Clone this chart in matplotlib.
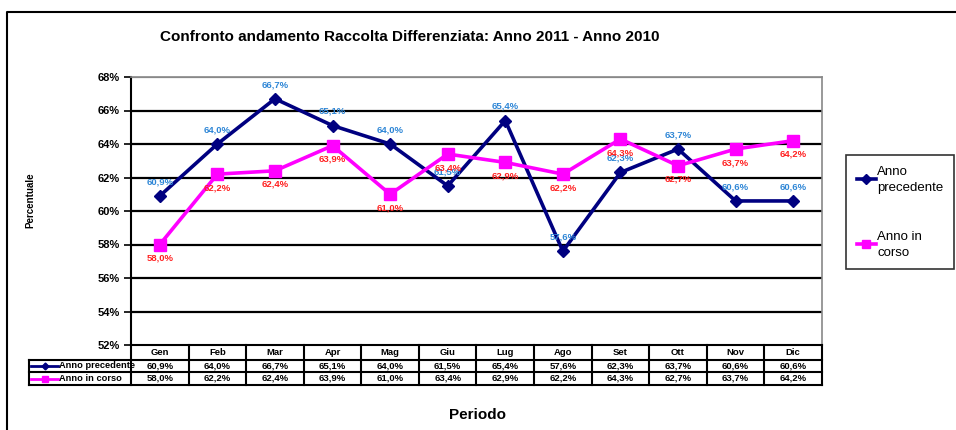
import matplotlib
matplotlib.use('Agg')
from matplotlib import pyplot as plt
from matplotlib.lines import Line2D

plt.rcParams['font.family'] = ['Liberation Sans', 'DejaVu Sans']

mesi = ['Gen', 'Feb', 'Mar', 'Apr', 'Mag', 'Giu', 'Lug', 'Ago', 'Set', 'Ott', 'Nov', 'Dic']
anno_precedente = [60.9, 64.0, 66.7, 65.1, 64.0, 61.5, 65.4, 57.6, 62.3, 63.7, 60.6, 60.6]
anno_in_corso = [58.0, 62.2, 62.4, 63.9, 61.0, 63.4, 62.9, 62.2, 64.3, 62.7, 63.7, 64.2]
y_ticks = [52, 54, 56, 58, 60, 62, 64, 66, 68]

def pct(v):
    return '{:.1f}%'.format(v).replace('.', ',')

fig = plt.figure(figsize=(9.56, 4.30), dpi=100)
ax = fig.add_axes([131 / 956, 1 - 345 / 430, 691 / 956, 268 / 430])

x = list(range(len(mesi)))
blu = '#000080'
rosa = '#ff00ff'

# griglia orizzontale
for t in y_ticks[1:-1]:
    ax.axhline(t, color='black', lw=1.6, zorder=1)
ax.axhline(68, color='#888888', lw=1.6, zorder=1)

ax.plot(x, anno_precedente, color=blu, lw=2.6, marker='D', ms=6, zorder=3)
ax.plot(x, anno_in_corso, color=rosa, lw=2.6, marker='s', ms=8, zorder=3)

for i in x:
    ax.annotate(pct(anno_precedente[i]), (i, anno_precedente[i]), xytext=(0, 7),
                textcoords='offset points', ha='center', va='bottom',
                color='#2e86d6', fontsize=6.8, fontweight='bold', zorder=4)
    ax.annotate(pct(anno_in_corso[i]), (i, anno_in_corso[i]), xytext=(0, -6.5),
                textcoords='offset points', ha='center', va='top',
                color='#ff2020', fontsize=6.8, fontweight='bold', zorder=4)

ax.set_xlim(-0.5, 11.5)
ax.set_ylim(52, 68)
ax.set_yticks(y_ticks)
ax.set_yticklabels(['{}%'.format(t) for t in y_ticks], fontsize=8, fontweight='bold')
ax.tick_params(axis='y', length=5, width=1.2, direction='out', pad=3)
ax.set_xticks([])
ax.spines['left'].set_linewidth(1.5)
ax.spines['bottom'].set_linewidth(1.5)
ax.spines['top'].set_color('#888888')
ax.spines['right'].set_color('#888888')
ax.spines['top'].set_linewidth(1.2)
ax.spines['right'].set_linewidth(1.2)

# tabella dati sotto il grafico
tr = ax.get_xaxis_transform()
h0, h1, h2 = -15 / 268, -27 / 268, -40 / 268
sx = lambda px: (px - 131) / (691 / 12) - 0.5
left = sx(29)
kw = dict(transform=tr, clip_on=False, color='black', lw=1.5)
for yy in [h0, h1, h2]:
    ax.add_line(Line2D([left if yy != h0 else -0.5, 11.5], [yy, yy], **kw))
ax.add_line(Line2D([left, -0.5], [h0, h0], **kw))
ax.add_line(Line2D([left, left], [h0, h2], **kw))
for i in range(13):
    ax.add_line(Line2D([i - 0.5, i - 0.5], [0, h2], **kw))

fs = 6.8
for i, m in enumerate(mesi):
    ax.text(i, (0 + h0) / 2, m, transform=tr, ha='center', va='center', fontsize=fs, fontweight='bold')
    ax.text(i, (h0 + h1) / 2, pct(anno_precedente[i]), transform=tr, ha='center', va='center', fontsize=fs, fontweight='bold')
    ax.text(i, (h1 + h2) / 2, pct(anno_in_corso[i]), transform=tr, ha='center', va='center', fontsize=fs, fontweight='bold')

ax.add_line(Line2D([sx(31), sx(58)], [(h0 + h1) / 2] * 2, transform=tr, clip_on=False,
                   color=blu, lw=2))
ax.plot([sx(44.5)], [(h0 + h1) / 2], transform=tr, clip_on=False, color=blu, marker='D', ms=3.5)
ax.add_line(Line2D([sx(31), sx(58)], [(h1 + h2) / 2] * 2, transform=tr, clip_on=False,
                   color=rosa, lw=2))
ax.plot([sx(44.5)], [(h1 + h2) / 2], transform=tr, clip_on=False, color=rosa, marker='s', ms=5)
ax.text(sx(59), (h0 + h1) / 2, 'Anno precedente', transform=tr, ha='left', va='center', fontsize=6.7, fontweight='bold')
ax.text(sx(59), (h1 + h2) / 2, 'Anno in corso', transform=tr, ha='left', va='center', fontsize=6.7, fontweight='bold')

# titoli
fig.text(410 / 956, 1 - 37 / 430, 'Confronto andamento Raccolta Differenziata: Anno 2011 - Anno 2010',
         ha='center', va='center', fontsize=11, fontweight='bold')
fig.text(478 / 956, 1 - 415 / 430, 'Periodo', ha='center', va='center', fontsize=11, fontweight='bold')
fig.text(30 / 956, 1 - 200 / 430, 'Percentuale', ha='center', va='center', rotation=90,
         fontsize=7, fontweight='bold')

# legenda
handles = [Line2D([], [], color=blu, lw=2.6, marker='D', ms=5),
           Line2D([], [], color=rosa, lw=2.6, marker='s', ms=6)]
leg = fig.legend(handles, ['Anno\nprecedente', 'Anno in\ncorso'], loc='upper left',
                 bbox_to_anchor=(846 / 956, 1 - 155 / 430), fontsize=9.5, frameon=True,
                 fancybox=False, edgecolor='black', handlelength=1.5, handletextpad=0.05,
                 labelspacing=2.8, borderpad=0.8, borderaxespad=0)
leg.get_frame().set_linewidth(1.2)
for t in leg.get_texts():
    t.set_linespacing(1.45)

# cornice esterna
fig.add_artist(Line2D([7 / 956, 7 / 956, 1], [0, 1 - 12 / 430, 1 - 12 / 430],
                      transform=fig.transFigure, color='black', lw=1.5))

fig.savefig('out.png', dpi=100)
